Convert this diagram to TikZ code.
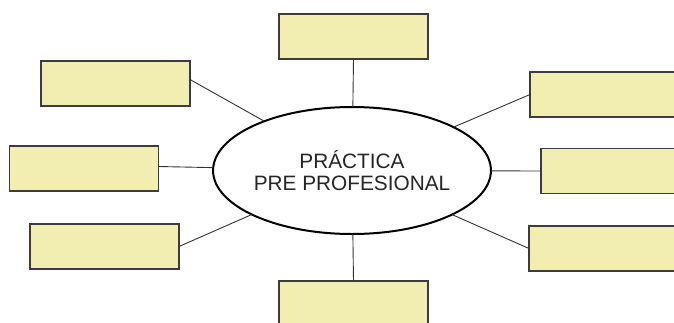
\documentclass[tikz,border=0pt]{standalone}
\usepackage{fontspec}
\setmainfont{Liberation Sans}
\usetikzlibrary{shapes.geometric}
\definecolor{boxfill}{RGB}{242,237,176}
\definecolor{boxline}{RGB}{60,60,60}
\tikzset{
  blank/.style={draw=boxline, line width=1.2pt, fill=boxfill, minimum width=149pt, minimum height=45pt, inner sep=0pt, outer sep=0pt},
  hub/.style={ellipse, draw=black, line width=2pt, fill=white, minimum width=276pt, minimum height=127pt, inner sep=0pt, outer sep=0pt, align=center, text=black!85, font=\fontsize{20.8}{22.5}\selectfont},
  link/.style={draw=black!80, line width=0.9pt}
}
\begin{document}
\begin{tikzpicture}[x=1pt,y=-1pt]
\useasboundingbox (0,0) rectangle (674,322);
\clip (0,0) rectangle (674,322);
\fill[white] (0,0) rectangle (674,322);
\node[hub] (e) at (352,170.5) {PRÁCTICA\\PRE PROFESIONAL};
\node[blank] (t) at (353.5,36.5) {};
\node[blank] (b) at (353.5,303.5) {};
\node[blank] (l1) at (115.5,83.5) {};
\node[blank] (l2) at (84,168.5) {};
\node[blank] (l3) at (104.5,246.5) {};
\node[blank] (r1) at (604.5,94.5) {};
\node[blank] (r2) at (615.5,171) {};
\node[blank] (r3) at (603.5,248.5) {};
\draw[link] (t.south) -- (e);
\draw[link] (b.north) -- (e);
\draw[link] ([yshift=4pt]l1.east) -- (e);
\draw[link] ([yshift=2pt]l2.east) -- (e);
\draw[link] (l3.east) -- (e);
\draw[link] (r1.west) -- (e);
\draw[link] (r2.west) -- (e);
\draw[link] (r3.west) -- (e);
\end{tikzpicture}
\end{document}
